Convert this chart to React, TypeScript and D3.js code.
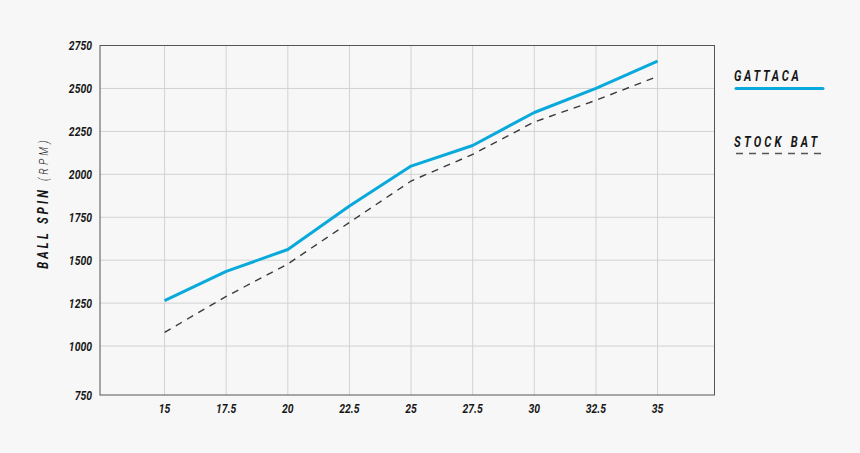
import React, { useEffect } from "react";
import * as d3 from "d3";

const speeds = [15, 17.5, 20, 22.5, 25, 27.5, 30, 32.5, 35];
const gattaca = [1265, 1435, 1562, 1816, 2048, 2168, 2360, 2500, 2659];
const stockBat = [1080, 1289, 1478, 1720, 1961, 2116, 2305, 2431, 2570];
const yTicks = [750, 1000, 1250, 1500, 1750, 2000, 2250, 2500, 2750];
const seriesNames = ["GATTACA", "STOCK BAT"];
const yTitle = "BALL SPIN";
const yUnit = "(RPM)";

const W = 860;
const H = 453;
const left = 100;
const right = 714.5;
const top = 45.5;
const bottom = 395;

const FONT = "Roboto, 'DejaVu Sans', sans-serif";
const SX = 0.8;

function CText(props: {
  x: number;
  y: number;
  anchor?: "start" | "middle" | "end";
  size: number;
  weight?: number;
  ls?: number;
  children: React.ReactNode;
}) {
  const { x, y, anchor = "start", size, weight = 700, ls = 0, children } = props;
  return (
    <text
      transform={`translate(${x},${y}) scale(${SX},1)`}
      textAnchor={anchor}
      style={{
        fontFamily: FONT,
        fontStyle: "italic",
        fontWeight: weight,
        fontSize: size,
        letterSpacing: ls,
        fill: "#161616",
      }}
    >
      {children}
    </text>
  );
}

export default function App() {
  useEffect(() => {
    document.body.style.margin = "0";
    document.body.style.background = "#f7f7f7";
  }, []);

  const x = d3.scaleLinear().domain([12.38, 37.31]).range([left, right]);
  const y = d3.scaleLinear().domain([750, 2750]).range([389, top]);

  const line = d3
    .line<number>()
    .x((_, i) => x(speeds[i]))
    .y((d) => y(d));

  return (
    <svg width={W} height={H} style={{ display: "block", background: "#f7f7f7" }}>
      <rect x={0} y={0} width={W} height={H} fill="#f7f7f7" />
      {/* gridlines */}
      {yTicks
        .filter((t) => t > 750 && t < 2750)
        .map((t) => (
          <line key={"gy" + t} x1={left} x2={right} y1={y(t)} y2={y(t)} stroke="#d2d2d2" strokeWidth={1} />
        ))}
      {speeds.map((s) => (
        <line key={"gx" + s} x1={x(s)} x2={x(s)} y1={top} y2={bottom} stroke="#d2d2d2" strokeWidth={1} />
      ))}
      {/* frame */}
      <rect x={left} y={top} width={right - left} height={bottom - top} fill="none" stroke="#555" strokeWidth={1} />

      {/* y tick labels */}
      {yTicks.map((t) => (
        <CText key={"yl" + t} x={92} y={(t === 750 ? bottom : y(t)) + 4.7} anchor="end" size={13}>
          {t}
        </CText>
      ))}
      {/* x tick labels */}
      {speeds.map((s) => (
        <CText key={"xl" + s} x={x(s)} y={413} anchor="middle" size={13}>
          {s}
        </CText>
      ))}

      {/* y axis title */}
      <text
        transform={`translate(48, 203) rotate(-90) scale(${SX},1)`}
        textAnchor="middle"
        style={{ fontFamily: FONT, fontStyle: "italic", fontSize: 14, fill: "#161616", letterSpacing: 4 }}
      >
        <tspan fontWeight={700}>{yTitle}</tspan>
        <tspan fontWeight={300} fontSize={13}> {yUnit}</tspan>
      </text>

      {/* series */}
      <path d={line(stockBat) || ""} fill="none" stroke="#3a3a3a" strokeWidth={1.4} strokeDasharray="7,6" />
      <path d={line(gattaca) || ""} fill="none" stroke="#0aa9dc" strokeWidth={3} strokeLinejoin="round" />

      {/* legend */}
      <CText x={734} y={81} size={14} ls={3.4}>
        {seriesNames[0]}
      </CText>
      <line x1={736} x2={823} y1={88.5} y2={88.5} stroke="#0aa9dc" strokeWidth={3} strokeLinecap="round" />
      <CText x={734} y={147} size={14} ls={4}>
        {seriesNames[1]}
      </CText>
      <line x1={736} x2={823} y1={153.5} y2={153.5} stroke="#555" strokeWidth={1.4} strokeDasharray="7,6" />
    </svg>
  );
}
